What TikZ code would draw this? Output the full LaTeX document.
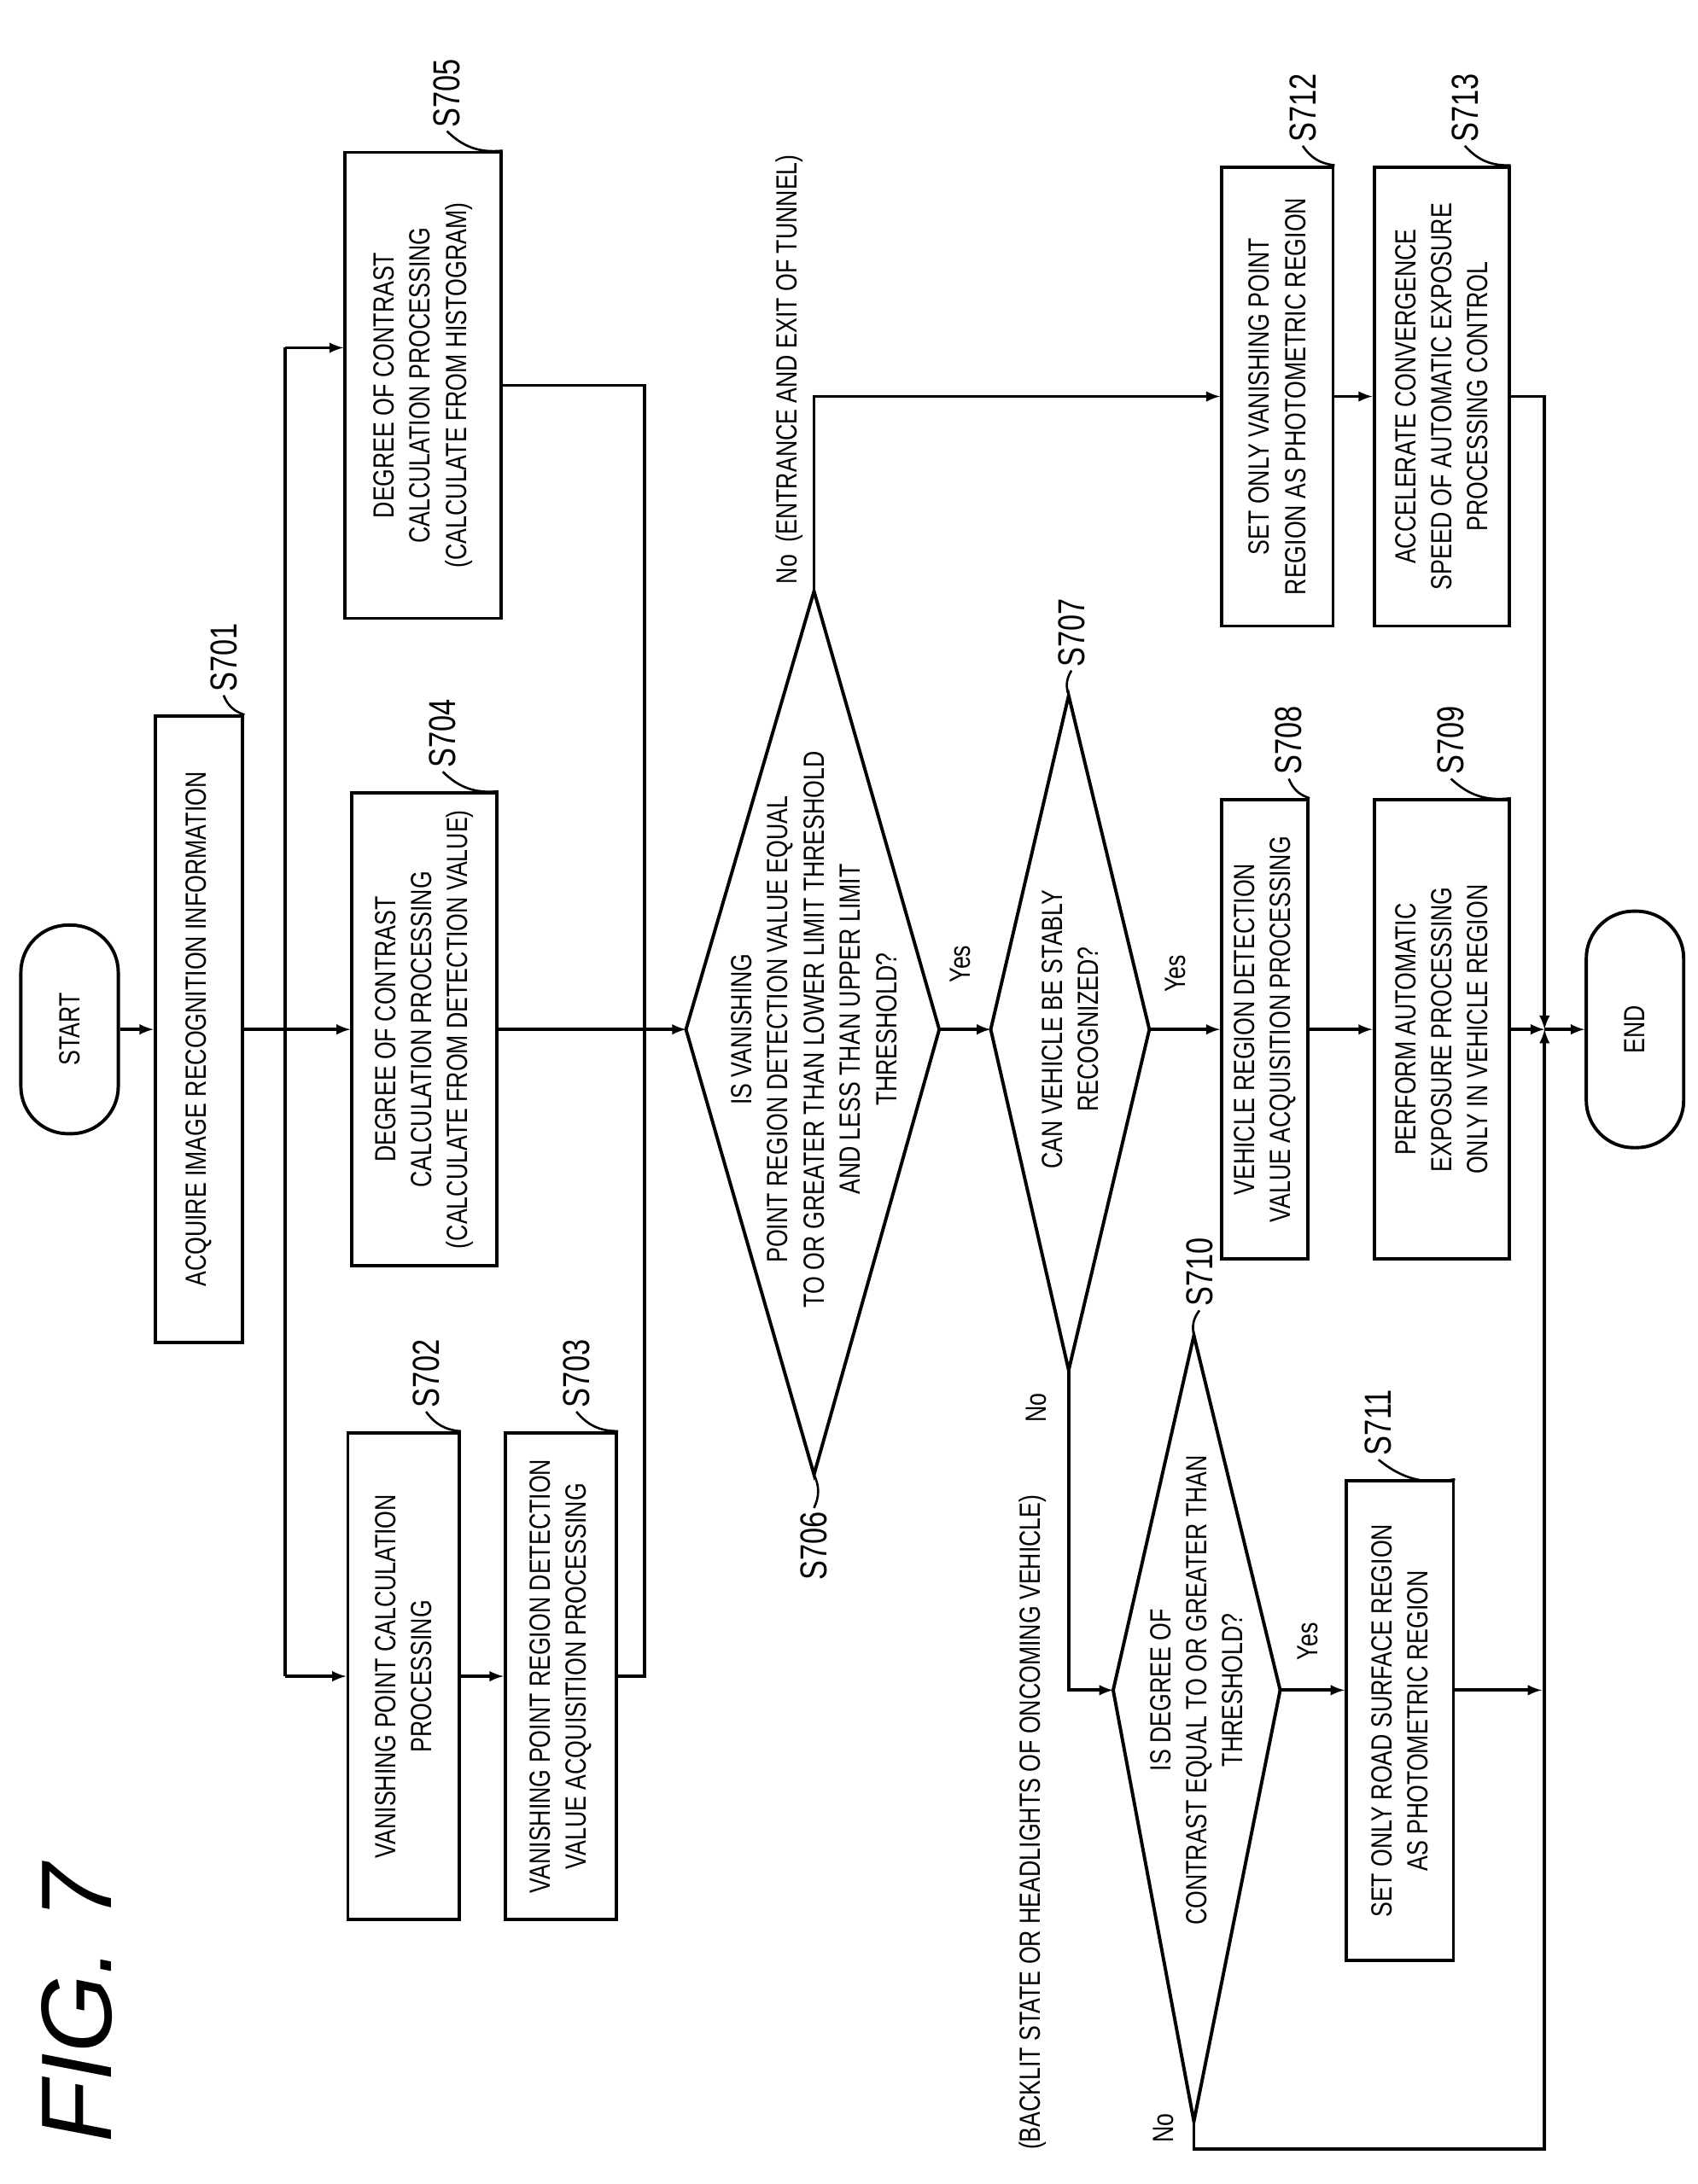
\documentclass[tikz,border=0pt]{standalone}
\usepackage{fontspec}
\setmainfont{Liberation Sans}
\newfontfamily\boxfont{Liberation Sans}[FakeStretch=0.78]
\usetikzlibrary{arrows}

\begin{document}
\begin{tikzpicture}[x=1pt,y=-1pt,line width=2.4pt,>=latex]
	\tikzstyle{box}=[draw,rotate=90,inner sep=2pt,align=center,font=\boxfont\fontsize{21}{26}\selectfont]
	\tikzstyle{term}=[box,rounded corners=34pt]
	\tikzstyle{txt}=[rotate=90,align=center,inner sep=1pt,font=\boxfont\fontsize{21}{26}\selectfont]
	\tikzstyle{steplbl}=[rotate=90,anchor=west,inner sep=2pt,font=\boxfont\fontsize{27}{30}\selectfont]
	\useasboundingbox (0,0) rectangle (1220,1570);
	
	\node[rotate=90,font=\itshape\fontsize{72}{72}\selectfont] (fig) at (55,1440) {FIG. 7};
	
	\node[term,minimum width=150pt,minimum height=70pt] (start) at (50,740) {START};
	\node[box,minimum width=450pt,minimum height=63pt] (a701) at (143,740) {ACQUIRE IMAGE RECOGNITION INFORMATION};
	\node[box,minimum width=335pt,minimum height=112pt] (a705) at (304,277) {DEGREE OF CONTRAST\\CALCULATION PROCESSING\\(CALCULATE FROM HISTOGRAM)};
	\node[box,minimum width=340pt,minimum height=104pt] (a704) at (305,740) {DEGREE OF CONTRAST\\CALCULATION PROCESSING\\(CALCULATE FROM DETECTION VALUE)};
	\node[box,minimum width=350pt,minimum height=80pt] (a702) at (290,1205) {VANISHING POINT CALCULATION\\PROCESSING};
	\node[box,minimum width=350pt,minimum height=80pt] (a703) at (403,1205) {VANISHING POINT REGION DETECTION\\VALUE ACQUISITION PROCESSING};
	\node[box,minimum width=330pt,minimum height=62pt] (a708) at (909,740) {VEHICLE REGION DETECTION\\VALUE ACQUISITION PROCESSING};
	\node[box,minimum width=330pt,minimum height=97pt] (a709) at (1036,740) {PERFORM AUTOMATIC\\EXPOSURE PROCESSING\\ONLY IN VEHICLE REGION};
	\node[box,minimum width=330pt,minimum height=80pt] (a712) at (918,285) {SET ONLY VANISHING POINT\\REGION AS PHOTOMETRIC REGION};
	\node[box,minimum width=330pt,minimum height=97pt] (a713) at (1036,285) {ACCELERATE CONVERGENCE\\SPEED OF AUTOMATIC EXPOSURE\\PROCESSING CONTROL};
	\node[box,minimum width=345pt,minimum height=77pt] (a711) at (1006,1237) {SET ONLY ROAD SURFACE REGION\\AS PHOTOMETRIC REGION};
	\node[term,minimum width=170pt,minimum height=70pt] (end) at (1175,740) {END};
	
	% decisions
	\coordinate (d706l) at (493,740); \coordinate (d706r) at (675,740);
	\coordinate (d706t) at (585,425); \coordinate (d706b) at (585,1060);
	\draw (d706l) -- (d706t) -- (d706r) -- (d706b) -- cycle;
	\node[txt] (t706) at (585,740) {IS VANISHING\\POINT REGION DETECTION VALUE EQUAL\\TO OR GREATER THAN LOWER LIMIT THRESHOLD\\AND LESS THAN UPPER LIMIT\\THRESHOLD?};
	\coordinate (d707l) at (712,740); \coordinate (d707r) at (826,740);
	\coordinate (d707t) at (768,500); \coordinate (d707b) at (768,985);
	\draw (d707l) -- (d707t) -- (d707r) -- (d707b) -- cycle;
	\node[txt] (t707) at (769,740) {CAN VEHICLE BE STABLY\\RECOGNIZED?};
	\coordinate (d710l) at (800,1215); \coordinate (d710r) at (920,1215);
	\coordinate (d710t) at (858,960); \coordinate (d710b) at (858,1525);
	\draw (d710l) -- (d710t) -- (d710r) -- (d710b) -- cycle;
	\node[txt] (t710) at (860,1215) {IS DEGREE OF\\CONTRAST EQUAL TO OR GREATER THAN\\THRESHOLD?};
	
	% connectors
	\coordinate (j1) at (205,740);
	\coordinate (s1) at (205,250);
	\coordinate (s2) at (205,1205);
	\coordinate (j2) at (463,740);
	\coordinate (m) at (1110,740);
	\draw[->] (start.south) -- (a701.north);
	\draw[->] (a701.south) -- (a704.north);
	\draw (s1) -- (s2);
	\draw[->] (s1) -- (s1 -| a705.north);
	\draw[->] (s2) -- (a702.north);
	\draw[->] (a702.south) -- (a703.north);
	\draw (a705.south) -| (j2);
	\draw (a703.south) -| (j2);
	\draw[->] (a704.south) -- (d706l);
	\draw[->] (d706t) |- (a712.north);
	\draw[->] (a712.south) -- (a713.north);
	\draw[->] (d706r) -- (d707l);
	\draw[->] (d707r) -- (a708.north);
	\draw[->] (a708.south) -- (a709.north);
	\draw[->] (a709.south) -- (m);
	\draw[->] (a713.south) -| (m);
	\draw[->] (d707b) |- (d710l);
	\draw[->] (d710r) -- (d710r -| a711.north);
	\draw[->] (d710r -| a711.south) -- (1108,1215);
	\draw[->] (d710b) -- (858,1545) -| (m);
	\draw[->] (m) -- (end.north);
	
	% branch labels
	\node[txt,anchor=west] at (567,422) {No\ \ (ENTRANCE AND EXIT OF TUNNEL)};
	\node[txt] at (690,693) {Yes};
	\node[txt] at (845,700) {Yes};
	\node[txt] at (745,1012) {No};
	\node[txt] at (742,1310) {(BACKLIT STATE OR HEADLIGHTS OF ONCOMING VEHICLE)};
	\node[txt] at (940,1180) {Yes};
	\node[txt] at (836,1530) {No};
	
	% step labels
	\foreach \n/\dx in {701/-15,705/-40,704/-40,702/-25,703/-30,708/-15,709/-43,712/-23,713/-33,711/-55}
		\draw[line width=1.6pt] (a\n.south east) to[bend left=25] ++(\dx,-14) node[steplbl]{S\n};
	\draw[line width=1.6pt] (d707t) to[bend left=25] ++(2,-18) node[steplbl]{S707};
	\draw[line width=1.6pt] (d710t) to[bend left=25] ++(4,-18) node[steplbl]{S710};
	\draw[line width=1.6pt] (d706b) to[bend left=25] ++(0,24) node[steplbl,anchor=east]{S706};
\end{tikzpicture}
\end{document}
